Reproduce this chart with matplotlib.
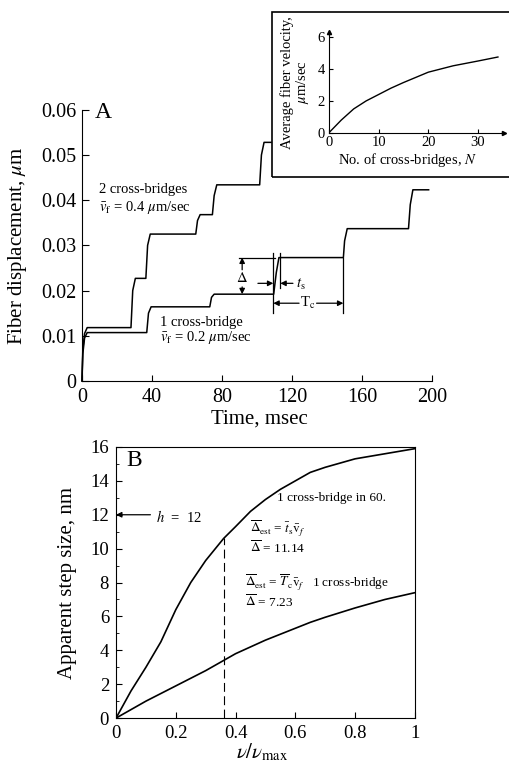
import matplotlib
matplotlib.use("Agg")
import matplotlib.pyplot as plt
from matplotlib.patches import Rectangle

# serif look like the printed figure
plt.rcParams["font.family"] = ["Liberation Serif", "DejaVu Serif"]
plt.rcParams["mathtext.fontset"] = "stix"

# ---- panel A: fiber displacement traces (msec, um)
t_two = [0, 0.5, 1.5, 3, 28, 29, 30.5, 36.5, 37.5, 39, 65, 66, 67.5, 74.5, 75.5, 77, 101.5, 102.5, 104, 108]
d_two = [0, 0.007, 0.0105, 0.0118, 0.0118, 0.020, 0.0227, 0.0227, 0.030, 0.0325, 0.0325, 0.0355,
         0.0368, 0.0368, 0.041, 0.0434, 0.0434, 0.050, 0.0528, 0.0528]
t_one = [0, 0.5, 1.5, 3, 37, 38, 39.5, 73, 74, 75.5, 109.5, 111, 112.5, 149.3, 150, 151.5,
         186.5, 187.5, 189, 198]
d_one = [0, 0.006, 0.0095, 0.0107, 0.0107, 0.0150, 0.0164, 0.0164, 0.0185, 0.0192, 0.0192, 0.024,
         0.0273, 0.0273, 0.031, 0.0337, 0.0337, 0.039, 0.0423, 0.0423]
time_ticks = [0, 40, 80, 120, 160, 200]
disp_ticks = [0, 0.01, 0.02, 0.03, 0.04, 0.05, 0.06]
disp_labels = ["0", "0.01", "0.02", "0.03", "0.04", "0.05", "0.06"]

# ---- inset: average fiber velocity vs number of cross-bridges
n_bridges = [0, 2.5, 5, 7.5, 10, 12.5, 15, 20, 25, 30, 34]
velocity = [0, 0.8, 1.5, 2.0, 2.4, 2.8, 3.15, 3.8, 4.2, 4.5, 4.75]

# ---- panel B: apparent step size vs v/vmax
v_ratio = [0, 0.05, 0.1, 0.15, 0.2, 0.25, 0.3, 0.36, 0.4, 0.45, 0.5, 0.55, 0.6, 0.65, 0.7, 0.8, 0.9, 1.0]
step_ts = [0, 1.6, 3.0, 4.5, 6.4, 8.0, 9.3, 10.6, 11.3, 12.2, 12.9, 13.5, 14.0, 14.5, 14.8, 15.3, 15.6, 15.9]
step_tc = [0, 0.5, 1.0, 1.45, 1.9, 2.35, 2.8, 3.4, 3.8, 4.2, 4.6, 4.95, 5.3, 5.65, 5.95, 6.5, 7.0, 7.4]

fig = plt.figure(figsize=(5.09, 7.68), dpi=100)

# ================= panel A
axA = fig.add_axes([0.161, 0.504, 0.688, 0.353])
axA.plot(t_two, d_two, color="k", lw=1.1, clip_on=False)
axA.plot(t_one, d_one, color="k", lw=1.1, clip_on=False)
axA.set_xlim(0, 200)
axA.set_ylim(0, 0.06)
for s in ["top", "right"]:
    axA.spines[s].set_visible(False)
axA.set_xticks(time_ticks)
axA.set_yticks(disp_ticks)
axA.set_yticklabels(disp_labels)
axA.tick_params(axis="x", direction="in", length=4, labelsize=14.5, pad=5)
axA.tick_params(axis="y", direction="in", length=5, labelsize=14.5, pad=4)
axA.set_xlabel("Time, msec", fontsize=15)
axA.xaxis.set_label_coords(0.508, -0.105)
axA.set_ylabel(r"Fiber displacement, $\mu$m", fontsize=15)
axA.yaxis.set_label_coords(-0.15, 0.5)

axA.text(7.5, 0.0594, "A", fontsize=17, va="center", ha="left")
axA.text(9.5, 0.0423, "2 cross-bridges", fontsize=10.5, va="center")
axA.text(9.5, 0.0383, r"$\bar{v}_{\rm f}$ = 0.4 $\mu$m/sec", fontsize=10.5, va="center")
axA.text(44.5, 0.0129, "1 cross-bridge", fontsize=10.5, va="center")
axA.text(44.5, 0.0097, r"$\bar{v}_{\rm f}$ = 0.2 $\mu$m/sec", fontsize=10.5, va="center")

# step size marker
axA.plot([89.5, 110], [0.0273, 0.0273], color="k", lw=0.9)
axA.text(91.5, 0.0227, r"$\Delta$", fontsize=10.5, ha="center", va="center")
ap = dict(arrowstyle="-|>", color="k", lw=0.9, mutation_scale=8, shrinkA=0, shrinkB=0)
axA.annotate("", xy=(91.5, 0.0273), xytext=(91.5, 0.0246), arrowprops=ap)
axA.annotate("", xy=(91.5, 0.0192), xytext=(91.5, 0.0208), arrowprops=ap)

# t_s marker
axA.plot([109.3, 109.3], [0.0283, 0.0150], color="k", lw=0.9)
axA.plot([113.3, 113.3], [0.0283, 0.0205], color="k", lw=0.9)
axA.annotate("", xy=(109.3, 0.0216), xytext=(100.5, 0.0216), arrowprops=ap)
axA.annotate("", xy=(113.3, 0.0216), xytext=(120.5, 0.0216), arrowprops=ap)
axA.text(122, 0.0214, r"$t_{\rm s}$", fontsize=10.5, va="center")

# T_c marker
axA.plot([149.3, 149.3], [0.0273, 0.0150], color="k", lw=0.9)
axA.annotate("", xy=(109.3, 0.0172), xytext=(124, 0.0172), arrowprops=ap)
axA.annotate("", xy=(149.3, 0.0172), xytext=(134, 0.0172), arrowprops=ap)
axA.text(129, 0.0172, r"T$_{\rm c}$", fontsize=10.5, ha="center", va="center")

# ================= inset
fig.patches.append(Rectangle((0.534, 0.7695), 0.47, 0.215, transform=fig.transFigure,
                             fill=False, edgecolor="k", lw=1.2))
axI = fig.add_axes([0.646, 0.827, 0.344, 0.131])
axI.plot(n_bridges, velocity, color="k", lw=1.0)
axI.set_xlim(0, 35.2)
axI.set_ylim(0, 6.3)
for s in ["top", "right"]:
    axI.spines[s].set_visible(False)
axI.plot(1, 0, ">k", ms=3, transform=axI.get_yaxis_transform(), clip_on=False)
axI.plot(0, 1, "^k", ms=3, transform=axI.get_xaxis_transform(), clip_on=False)
axI.set_xticks([0, 10, 20, 30])
axI.set_yticks([0, 2, 4, 6])
axI.tick_params(axis="x", direction="in", length=3, labelsize=10.5, pad=2)
axI.tick_params(axis="y", direction="in", length=3, labelsize=10.5, pad=3)
axI.set_xlabel(r"No. of cross-bridges, $N$", fontsize=10.5)
axI.xaxis.set_label_coords(0.45, -0.18)
axI.set_ylabel("Average fiber velocity,\n" + r"$\mu$m/sec", fontsize=10.5, linespacing=1.0)
axI.yaxis.set_label_coords(-0.1, 0.5)

# ================= panel B
axB = fig.add_axes([0.228, 0.065, 0.587, 0.353])
axB.plot(v_ratio, step_ts, color="k", lw=1.2)
axB.plot(v_ratio, step_tc, color="k", lw=1.2)
axB.plot([0.36, 0.36], [0, 10.6], color="k", lw=0.8, ls=(0, (8, 4)))
axB.set_xlim(0, 1)
axB.set_ylim(0, 16)
axB.set_xticks([0, 0.2, 0.4, 0.6, 0.8, 1.0])
axB.set_xticklabels(["0", "0.2", "0.4", "0.6", "0.8", "1"])
axB.set_yticks(range(0, 17, 2))
axB.set_yticks(range(1, 16, 2), minor=True)
axB.tick_params(axis="both", which="major", direction="in", length=4, labelsize=13.5, pad=5)
axB.tick_params(axis="y", which="minor", direction="in", length=2)
axB.set_xlabel(r"$\nu/\nu_{\rm max}$", fontsize=15)
axB.xaxis.set_label_coords(0.49, -0.085)
axB.set_ylabel("Apparent step size, nm", fontsize=15)
axB.yaxis.set_label_coords(-0.13, 0.5)

axB.text(0.035, 15.2, "B", fontsize=17, va="center")
axB.annotate("", xy=(0.0, 12), xytext=(0.115, 12), arrowprops=ap)
axB.text(0.135, 11.85, r"$h$  =  12", fontsize=10.5, va="center")
axB.text(0.54, 13.0, "1 cross-bridge in 60.", fontsize=9.5, va="center")
axB.text(0.448, 11.2, r"$\overline{\Delta}_{\rm est}$ = $\bar{t}_{\rm s}\bar{\rm v}_f$",
         fontsize=9.5, va="center")
axB.text(0.448, 10.05, r"$\overline{\Delta}$ = 11.14", fontsize=9.5, va="center")
axB.text(0.43, 8.05, r"$\overline{\Delta}_{\rm est}$ = $\overline{T}_{\rm c}\bar{\rm v}_f$   1 cross-bridge",
         fontsize=9.5, va="center")
axB.text(0.43, 6.85, r"$\overline{\Delta}$ = 7.23", fontsize=9.5, va="center")

plt.savefig("out.png", dpi=100)
